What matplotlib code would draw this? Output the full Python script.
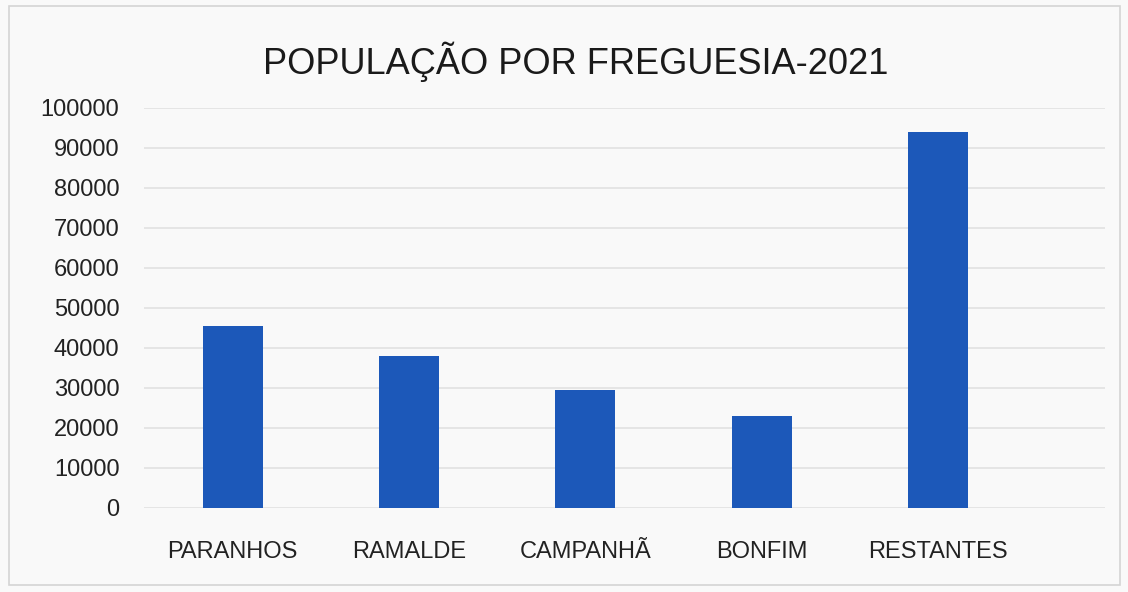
import matplotlib.pyplot as plt
from matplotlib.patches import Rectangle

freguesias = ["PARANHOS", "RAMALDE", "CAMPANHÃ", "BONFIM", "RESTANTES"]
populacao = [45500, 38000, 29500, 23000, 94000]
y_ticks = list(range(0, 100001, 10000))

plt.rcParams["font.family"] = ["Liberation Sans", "DejaVu Sans"]

fig = plt.figure(figsize=(11.28, 5.92), dpi=100)
fig.patch.set_facecolor("#f9f9f9")
fig.patches.append(Rectangle((0.008, 0.012), 0.985, 0.978, transform=fig.transFigure,
                             fill=False, edgecolor="#d4d4d4", linewidth=1.2))

ax = fig.add_axes([0.128, 0.142, 0.852, 0.676])
ax.set_facecolor("#f9f9f9")

x = range(len(freguesias))
ax.bar(x, populacao, width=0.34, color="#1c58b9", zorder=3)

ax.set_ylim(0, 100000)
ax.set_xlim(-0.5, 4.95)
ax.set_yticks(y_ticks)
ax.set_yticklabels([str(v) for v in y_ticks], fontsize=17, color="#222222")
ax.set_xticks(list(x))
ax.set_xticklabels(freguesias, fontsize=17, color="#222222")
ax.tick_params(axis="y", length=0, pad=18)
ax.tick_params(axis="x", length=0, pad=24)
ax.grid(axis="y", color="#e2e2e2", linewidth=1.2, zorder=0)
for s in ax.spines.values():
    s.set_visible(False)

fig.text(0.51, 0.895, "POPULAÇÃO POR FREGUESIA-2021", ha="center", va="center",
         fontsize=26, color="#1a1a1a")

fig.savefig("out.png", dpi=100, facecolor=fig.get_facecolor())
